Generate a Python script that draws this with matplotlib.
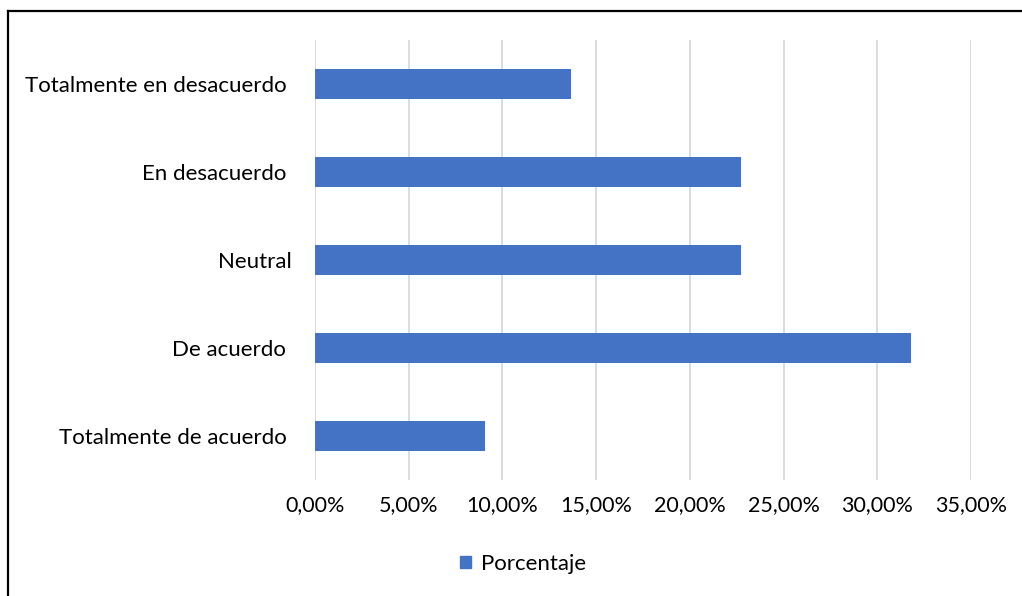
import matplotlib
matplotlib.use("Agg")
import matplotlib.pyplot as plt
from matplotlib.lines import Line2D
from matplotlib.ticker import FuncFormatter, MultipleLocator

# Survey responses (share of respondents)
categories = [
    "Totalmente en desacuerdo ",
    "En desacuerdo ",
    "Neutral",
    "De acuerdo ",
    "Totalmente de acuerdo ",
]
porcentaje = [0.1364, 0.2273, 0.2273, 0.3182, 0.0909]
series_name = "Porcentaje"

plt.rcParams["font.family"] = ["Lato", "DejaVu Sans"]

W, H = 1022, 596
FS = 16
fig = plt.figure(figsize=(W / 100, H / 100), dpi=100)
ax = fig.add_axes([315 / W, (H - 480) / H, (971 - 315) / W, 440 / H])

bar_color = "#4472C4"
ypos = list(range(len(categories)))
ax.barh(ypos, porcentaje, height=0.35, color=bar_color, label=series_name, zorder=3)
ax.set_yticks(ypos)
ax.set_yticklabels(categories, fontsize=FS, color="#000000")
ax.set_ylim(len(categories) - 0.5, -0.5)

ax.set_xlim(0, 0.35)
ax.xaxis.set_major_locator(MultipleLocator(0.05))
ax.xaxis.set_major_formatter(FuncFormatter(lambda v, _: f"{v * 100:.2f}%".replace(".", ",")))
ax.tick_params(axis="x", length=0, pad=11, labelsize=15.5, labelcolor="#000000")
ax.tick_params(axis="y", length=0, pad=16.5)
ax.grid(axis="x", color="#D9D9D9", linewidth=1.3, zorder=0)
for s in ax.spines.values():
    s.set_visible(False)

handles = [plt.Rectangle((0, 0), 1, 1, color=bar_color)]
fig.legend(handles, [series_name], loc="center", bbox_to_anchor=(523 / W, 1 - 564 / H),
           frameon=False, fontsize=FS, handlelength=0.5, handleheight=0.5,
           handletextpad=0.45)

# Outer chart frame (top and left edges)
fig.add_artist(Line2D([8 / W, 1.0], [1 - 10.5 / H, 1 - 10.5 / H], color="black", lw=1.6,
                      transform=fig.transFigure))
fig.add_artist(Line2D([8 / W, 8 / W], [0.0, 1 - 10.5 / H], color="black", lw=1.6,
                      transform=fig.transFigure))

fig.savefig("out.png", dpi=100)
